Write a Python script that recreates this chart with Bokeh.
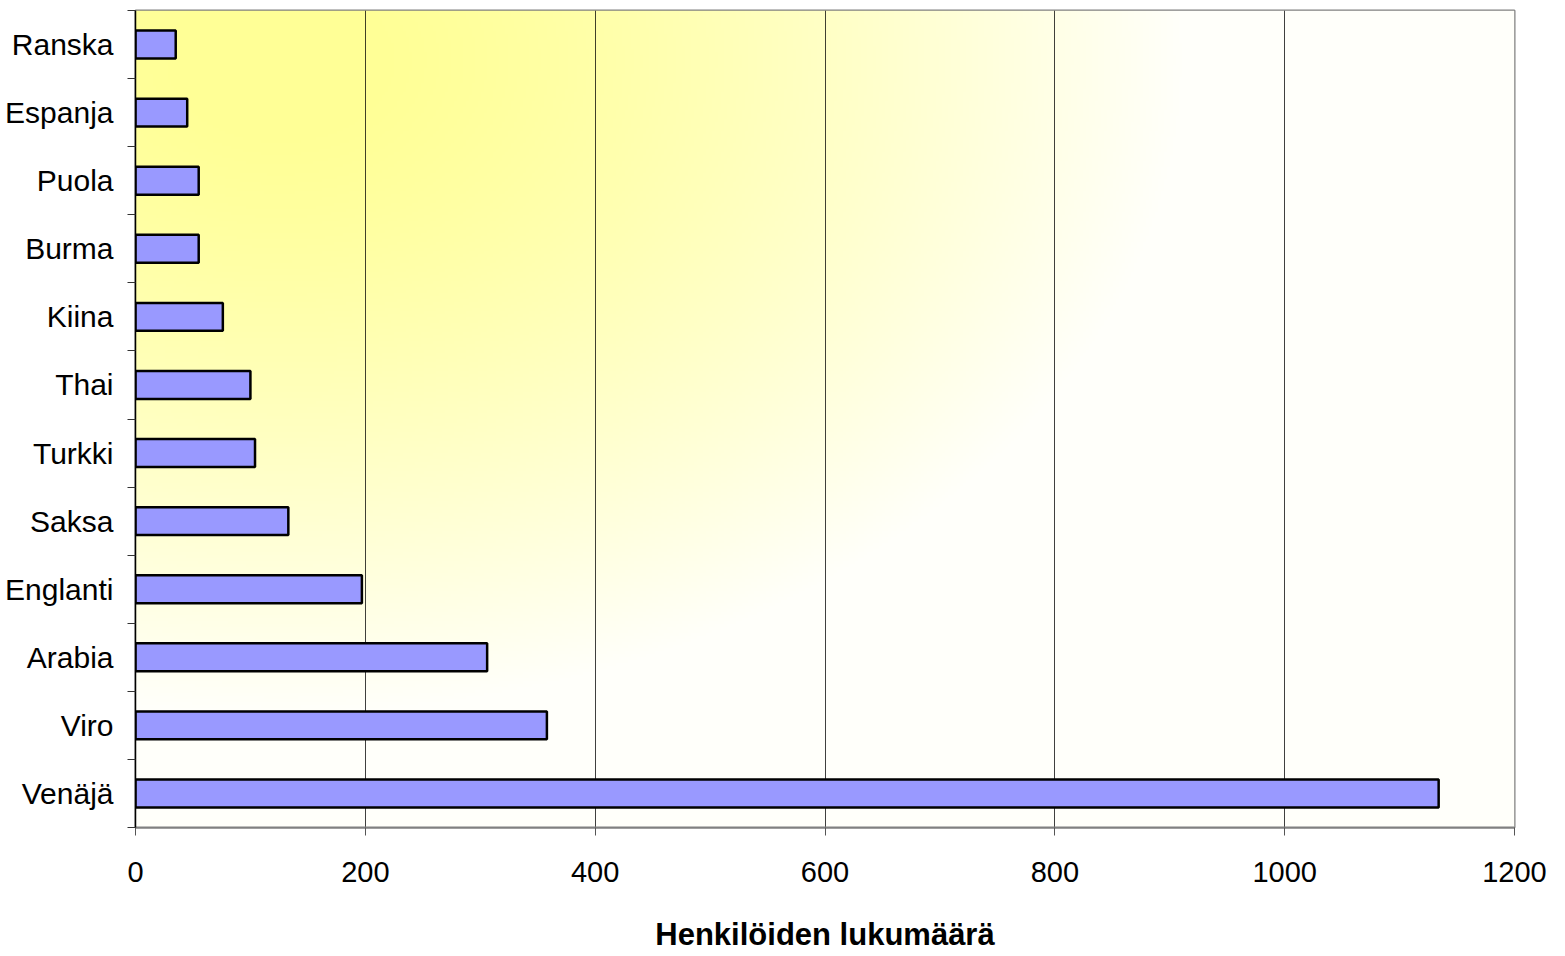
import numpy as np
from bokeh.plotting import figure
from bokeh.models import FixedTicker, Range1d
from bokeh.embed import file_html
from bokeh.resources import INLINE

# Data (top to bottom as in the chart)
languages = ["Ranska", "Espanja", "Puola", "Burma", "Kiina", "Thai",
             "Turkki", "Saksa", "Englanti", "Arabia", "Viro", "Venäjä"]
counts = [35, 45, 55, 55, 76, 100, 104, 133, 197, 306, 358, 1134]
x_ticks = [0, 200, 400, 600, 800, 1000, 1200]
x_title = "Henkilöiden lukumäärä"

n = len(languages)
ypos = [n - i - 0.5 for i in range(n)]
FONT = "Liberation Sans"

p = figure(width=1560, height=954, output_backend="svg", toolbar_location=None,
           x_range=Range1d(0, 1200), y_range=Range1d(0, n),
           min_border_left=135, min_border_right=46, min_border_top=10,
           min_border_bottom=127)
p.background_fill_color = "white"
p.border_fill_color = "white"
p.outline_line_color = "#808080"
p.outline_line_width = 2

# background gradient (light yellow from top-left area fading to white)
nx, ny = 460, 272
ii = (np.arange(nx) + 0.5) / nx
jj = (np.arange(ny) + 0.5) / ny
PX = 135 + ii[None, :] * 1379
PY = 827 - jj[:, None] * 817
d = np.sqrt(((PX - 280) / 900.0) ** 2 + ((PY - 60) / 650.0) ** 2)
t = np.clip((d - 0.1) / 0.9, 0, 1) ** 1.3
b = (150 + (250 - 150) * t).astype(np.uint32)
img = np.empty((ny, nx), dtype=np.uint32)
view = img.view(dtype=np.uint8).reshape((ny, nx, 4))
view[:, :, 0] = 255
view[:, :, 1] = 255
view[:, :, 2] = b.astype(np.uint8)
view[:, :, 3] = 255
p.image_rgba(image=[img], x=0, y=0, dw=1200, dh=n, level="image")

p.hbar(y=ypos, right=counts, left=0, height=0.41, fill_color="#9999FF",
       line_color="black", line_width=2.5)

# x axis
p.xaxis.ticker = FixedTicker(ticks=x_ticks)
p.xaxis.axis_line_color = "#808080"
p.xaxis.axis_line_width = 2
p.xaxis.major_tick_line_color = "#555555"
p.xaxis.major_tick_out = 8
p.xaxis.major_tick_in = 0
p.xaxis.minor_tick_line_color = None
p.xaxis.major_label_text_font = FONT
p.xaxis.major_label_text_font_size = "29px"
p.xaxis.major_label_text_color = "black"
p.xaxis.major_label_standoff = 26
p.xaxis.axis_label = x_title
p.xaxis.axis_label_text_font = FONT
p.xaxis.axis_label_text_font_style = "bold"
p.xaxis.axis_label_text_font_size = "31px"
p.xaxis.axis_label_text_color = "black"
p.xaxis.axis_label_standoff = 32

# y axis
p.yaxis.ticker = FixedTicker(ticks=ypos, minor_ticks=list(range(n + 1)))
p.yaxis.major_label_overrides = {y: lab for y, lab in zip(ypos, languages)}
p.yaxis.axis_line_color = "black"
p.yaxis.axis_line_width = 1.5
p.yaxis.major_tick_line_color = None
p.yaxis.major_tick_out = 0
p.yaxis.major_tick_in = 0
p.yaxis.minor_tick_line_color = "#333333"
p.yaxis.minor_tick_out = 8
p.yaxis.minor_tick_in = 0
p.yaxis.major_label_text_font = FONT
p.yaxis.major_label_text_font_size = "30px"
p.yaxis.major_label_text_color = "black"
p.yaxis.major_label_standoff = 14

# grid
p.xgrid.ticker = FixedTicker(ticks=x_ticks[1:-1])
p.xgrid.grid_line_color = "black"
p.xgrid.grid_line_alpha = 0.75
p.xgrid.grid_line_width = 1
p.ygrid.grid_line_color = None

open("out.html", "w").write(file_html(p, INLINE))
